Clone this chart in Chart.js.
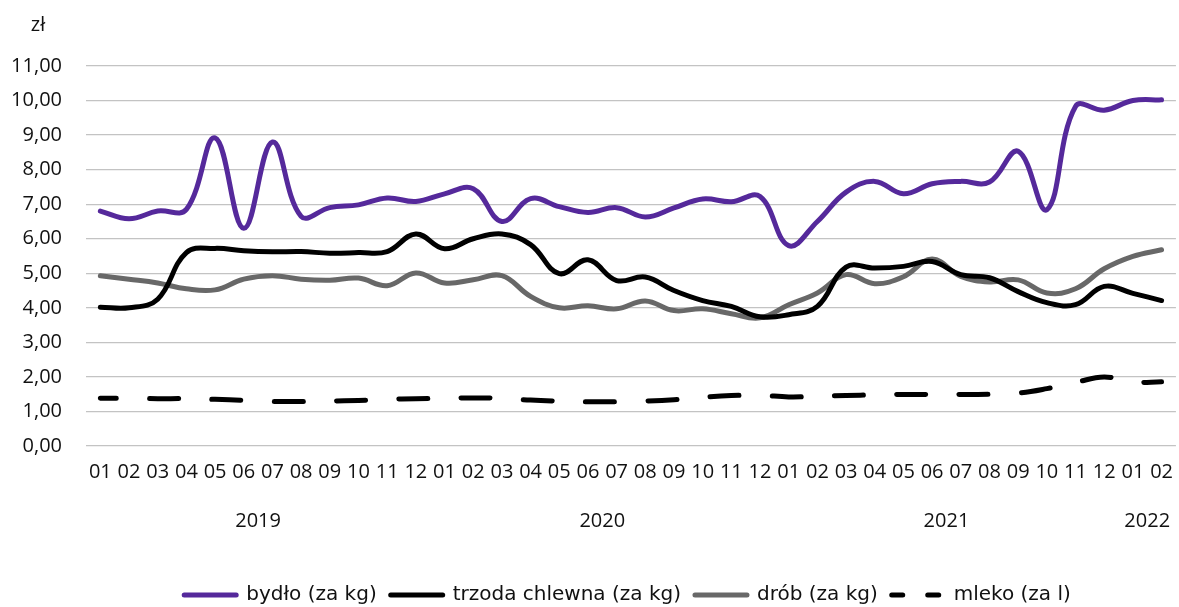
<!DOCTYPE html>
<html lang="pl">
<head>
<meta charset="utf-8">
<title>Ceny produktów rolnych</title>
<script src="https://cdn.jsdelivr.net/npm/chart.js@4.4.1/dist/chart.umd.min.js"></script>
<style>
  html, body { margin: 0; padding: 0; background: #fff; overflow: hidden; }
  #wrap { width: 1179px; height: 607px; }
</style>
</head>
<body>
<div id="wrap"><canvas id="chart" width="1179" height="607"></canvas></div>
<script>
// months 2019-01 .. 2022-02
const months = ['01','02','03','04','05','06','07','08','09','10','11','12',
                '01','02','03','04','05','06','07','08','09','10','11','12',
                '01','02','03','04','05','06','07','08','09','10','11','12',
                '01','02'];
// year label -> first and last month index
const years = [['2019', 0, 11], ['2020', 12, 23], ['2021', 24, 35], ['2022', 36, 37]];

const bydlo = [6.80, 6.58, 6.80, 6.85, 8.92, 6.30, 8.80, 6.65, 6.90, 6.98, 7.18, 7.08,
               7.30, 7.45, 6.50, 7.16, 6.93, 6.76, 6.90, 6.63, 6.89, 7.15, 7.07, 7.22,
               5.80, 6.50, 7.35, 7.66, 7.30, 7.59, 7.66, 7.64, 8.53, 6.84, 9.83, 9.72,
               10.00, 10.02];
const trzoda = [4.02, 4.00, 4.25, 5.60, 5.72, 5.65, 5.62, 5.63, 5.58, 5.60, 5.63, 6.14,
                5.71, 6.00, 6.14, 5.83, 4.99, 5.39, 4.79, 4.89, 4.50, 4.21, 4.04, 3.74,
                3.80, 4.04, 5.18, 5.15, 5.20, 5.34, 4.96, 4.87, 4.47, 4.15, 4.09, 4.62,
                4.42, 4.21];
const drob = [4.93, 4.83, 4.72, 4.55, 4.52, 4.83, 4.93, 4.83, 4.80, 4.86, 4.64, 5.01,
              4.72, 4.81, 4.93, 4.33, 4.00, 4.06, 3.97, 4.20, 3.92, 3.97, 3.83, 3.71,
              4.09, 4.43, 4.96, 4.70, 4.90, 5.41, 4.91, 4.75, 4.81, 4.43, 4.55, 5.13,
              5.49, 5.68];
const mleko = [1.38, 1.38, 1.37, 1.37, 1.35, 1.32, 1.29, 1.29, 1.30, 1.32, 1.35, 1.37,
               1.38, 1.39, 1.38, 1.33, 1.30, 1.28, 1.28, 1.30, 1.34, 1.41, 1.46, 1.47,
               1.42, 1.44, 1.46, 1.48, 1.49, 1.49, 1.49, 1.50, 1.53, 1.66, 1.84, 2.00,
               1.85, 1.86];

const AXIS_FONT = '"Open Sans", Roboto, sans-serif';
const LEGEND_FONT = '"DejaVu Sans", "Open Sans", sans-serif';
const TEXT = '#111';

// "zł" unit and year row under the month labels
const extraLabels = {
  id: 'extraLabels',
  afterDraw(chart) {
    const {ctx} = chart;
    const x = chart.scales.x;
    ctx.save();
    ctx.fillStyle = TEXT;
    ctx.font = '20px ' + AXIS_FONT;
    ctx.textAlign = 'center';
    ctx.textBaseline = 'middle';
    ctx.fillText('zł', 38, 25);
    years.forEach(([label, a, b]) => {
      const cx = (x.getPixelForValue(a) + x.getPixelForValue(b)) / 2;
      ctx.fillText(label, cx, 521);
    });
    ctx.restore();
  }
};

// legend sits a bit lower and right of where chart.js centres it
const legendNudge = {
  id: 'legendNudge',
  afterLayout(chart) {
    const lg = chart.legend;
    lg.top += 8; lg.bottom += 8;
    lg.left += 38; lg.right += 38;
  }
};

const line = (label, data, color, extra) => Object.assign({
  label, data,
  borderColor: color,
  backgroundColor: color,
  borderWidth: 5,
  borderCapStyle: 'round',
  borderJoinStyle: 'round',
  pointRadius: 0,
  tension: 0.4,
  fill: false
}, extra);

new Chart(document.getElementById('chart'), {
  type: 'line',
  data: {
    labels: months,
    datasets: [
      line('bydło (za kg)', bydlo, '#55299b'),
      line('trzoda chlewna (za kg)', trzoda, '#000000'),
      line('drób (za kg)', drob, '#686868'),
      line('mleko (za l)', mleko, '#000000', { borderDash: [29, 33.3], borderDashOffset: 13 })
    ]
  },
  options: {
    responsive: false,
    animation: false,
    devicePixelRatio: 1,
    layout: { padding: { top: 66, left: 0, right: 0, bottom: 0 } },
    plugins: {
      tooltip: { enabled: false },
      legend: {
        position: 'bottom',
        labels: {
          usePointStyle: true,
          pointStyle: 'line',
          pointStyleWidth: 52,
          padding: 14,
          color: TEXT,
          font: { family: LEGEND_FONT, size: 20 },
          generateLabels(chart) {
            const items = Chart.defaults.plugins.legend.labels.generateLabels(chart);
            items.forEach(it => {
              const ds = chart.data.datasets[it.datasetIndex];
              it.lineWidth = ds.borderWidth;
              it.lineCap = 'round';
              it.lineDash = ds.borderDash ? [11, 25] : [];
              it.lineDashOffset = 0;
            });
            return items;
          }
        }
      }
    },
    scales: {
      x: {
        offset: true,
        grid: { display: false },
        border: { display: false },
        ticks: {
          color: TEXT,
          font: { family: AXIS_FONT, size: 20 },
          autoSkip: false,
          maxRotation: 0,
          minRotation: 0,
          padding: 6
        },
        afterFit(scale) { scale.height = 117; }
      },
      y: {
        min: 0,
        max: 11,
        grid: { color: '#c3c3c3', lineWidth: 1.3, drawTicks: false },
        border: { display: false },
        ticks: {
          stepSize: 1,
          padding: 24,
          color: TEXT,
          font: { family: AXIS_FONT, size: 20 },
          callback: v => v.toFixed(2).replace('.', ',')
        },
        afterFit(scale) { scale.width = 86; }
      }
    }
  },
  plugins: [extraLabels, legendNudge]
});
</script>
</body>
</html>
